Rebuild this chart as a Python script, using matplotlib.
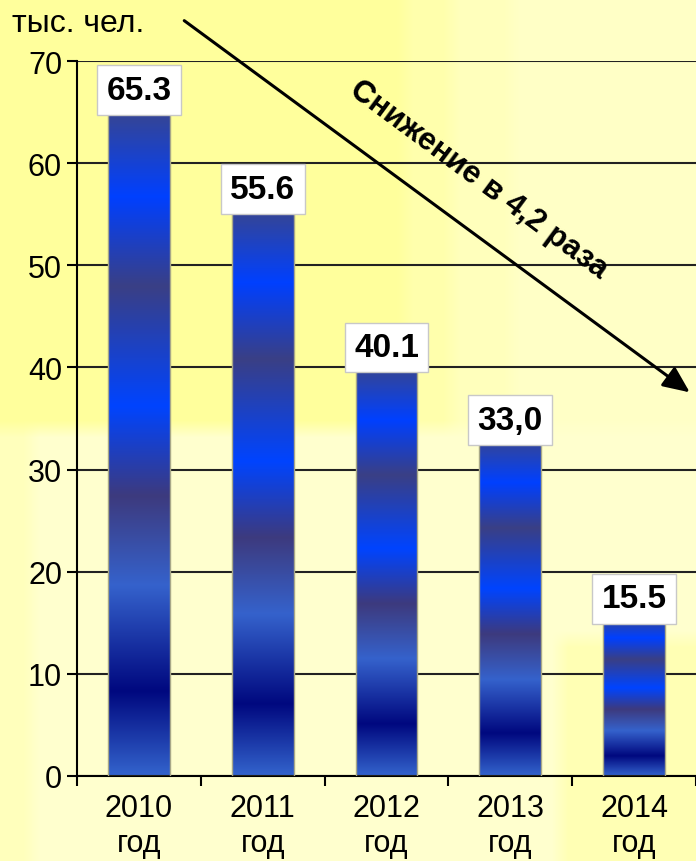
import numpy as np
import matplotlib
matplotlib.use('Agg')
import matplotlib.pyplot as plt
from matplotlib.colors import LinearSegmentedColormap

# ---------------- data ----------------
years = ['2010', '2011', '2012', '2013', '2014']
year_suffix = 'год'
values = [65.3, 55.6, 40.1, 33.0, 15.5]
value_labels = ['65.3', '55.6', '40.1', '33,0', '15.5']
y_ticks = [0, 10, 20, 30, 40, 50, 60, 70]
unit_label = 'тыс. чел.'
trend_label = 'Снижение в 4,2 раза'

plt.rcParams['font.family'] = ['Liberation Sans', 'DejaVu Sans']

W, H = 696, 862
fig = plt.figure(figsize=(W / 100, H / 100), dpi=100)

# ---------------- background (decorative yellow gradient) ----------------
yy, xx = np.mgrid[0:H, 0:W]
t = np.full((H, W), 0.12)
t[(xx < 405) & (yy < 430)] = 0.95
t[(xx >= 405) & (xx < 452) & (yy < 430)] = 0.68
t[(xx >= 452) & (xx < 512) & (yy < 430)] = 0.42
t[(xx >= 512) & (yy < 430)] = 0.25
t[(xx < 32) & (yy >= 430)] = 0.42
t[(xx >= 560) & (yy >= 640)] = 0.55


def box_blur(a, r):
    for axis in (0, 1):
        pad = [(0, 0), (0, 0)]
        pad[axis] = (r + 1, r)
        p = np.pad(a, pad, mode='edge')
        c = np.cumsum(p, axis=axis)
        if axis == 0:
            a = (c[2 * r + 1:, :] - c[:-2 * r - 1, :]) / (2 * r + 1)
        else:
            a = (c[:, 2 * r + 1:] - c[:, :-2 * r - 1]) / (2 * r + 1)
    return a


t = box_blur(t, 8)
rgb = np.ones((H, W, 3))
rgb[..., 2] = (214 - t * (214 - 153)) / 255.0
bg = fig.add_axes([0, 0, 1, 1], zorder=-10)
bg.imshow(rgb, aspect='auto', extent=[0, 1, 0, 1], interpolation='bilinear')
bg.set_axis_off()

# ---------------- main axes ----------------
ax = fig.add_axes([77 / W, 1 - 777 / H, (W - 77) / W, (777 - 62) / H])
ax.patch.set_alpha(0)

x = np.arange(len(years))
bars = ax.bar(x, values, width=0.5, color='none', edgecolor='#a8a888',
              linewidth=1.0, zorder=3)

stops = [(0.0, '#3363cc'), (0.126, '#00087f'), (0.285, '#3562cc'),
         (0.42, '#3d3a7e'), (0.555, '#0044ff'), (0.735, '#3a3f85'),
         (0.87, '#0040ff'), (1.0, '#384590')]
cmap = LinearSegmentedColormap.from_list('barblue', stops)
grad = np.linspace(0, 1, 256).reshape(-1, 1)
for b in bars:
    x0, w, h = b.get_x(), b.get_width(), b.get_height()
    im = ax.imshow(grad, cmap=cmap, origin='lower', extent=[x0, x0 + w, 0, h],
                   aspect='auto', zorder=2.5, interpolation='bilinear')
    im.set_clip_path(b)

ax.set_xlim(-0.5, len(years) - 0.5)
ax.set_ylim(0, 70)

for xi, v, lbl in zip(x, values, value_labels):
    ax.text(xi, v + 1.85, lbl, ha='center', va='center', fontsize=24,
            fontweight='bold', color='black', zorder=6,
            bbox=dict(boxstyle='square,pad=0.28', fc='white', ec='#c8c8c8', lw=1))

ax.set_yticks(y_ticks)
ax.set_yticklabels([str(v) for v in y_ticks])
ax.tick_params(axis='y', length=7.2, width=1.5, pad=3.6, labelsize=22,
               direction='out', colors='black')
ax.set_xticks(x)
ax.set_xticklabels([f'{y}\n{year_suffix}' for y in years], linespacing=1.2)
ax.tick_params(axis='x', which='major', length=0, pad=12.5, labelsize=22)
ax.set_xticks(np.arange(-0.5, len(years), 1.0), minor=True)
ax.tick_params(axis='x', which='minor', length=7.2, width=1.5, direction='out')

ax.yaxis.grid(True, color='#222222', lw=1.5)
ax.set_axisbelow(True)
for s in ('top', 'right'):
    ax.spines[s].set_visible(False)
for s in ('left', 'bottom'):
    ax.spines[s].set_linewidth(1.5)
    ax.spines[s].set_color('black')

# unit label
fig.text(12 / W, 1 - 32 / H, unit_label, ha='left', va='baseline', fontsize=23)

# trend arrow and label
ax.annotate('', xy=(692 / W, 1 - 395 / H), xytext=(182 / W, 1 - 20 / H),
            xycoords='figure fraction', textcoords='figure fraction',
            annotation_clip=False,
            arrowprops=dict(arrowstyle='-|>,head_length=0.9,head_width=0.4',
                            lw=2.2, color='black', mutation_scale=18))
fig.text(479 / W, 1 - 180 / H, trend_label, rotation=-36.5, rotation_mode='anchor',
         ha='center', va='center', fontsize=22.5, fontweight='bold')

fig.savefig('out.png', dpi=100)
